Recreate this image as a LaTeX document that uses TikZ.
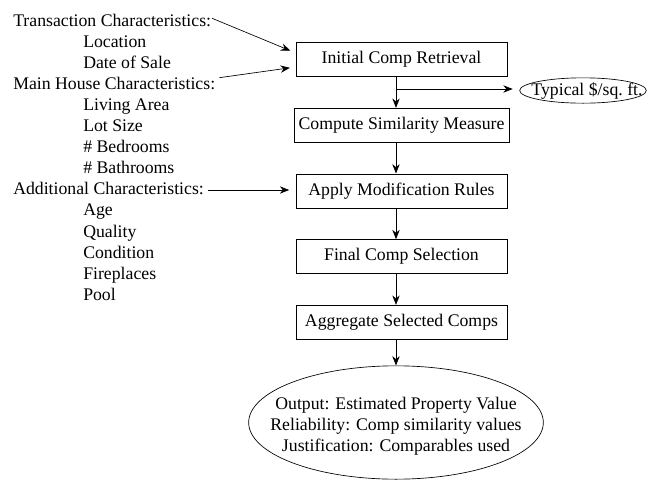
\documentclass[tikz,border=0pt]{standalone}
\usepackage{fontspec}
\setmainfont{Liberation Serif}
\usetikzlibrary{arrows.meta,positioning,calc,shapes.geometric}

\begin{document}
\begin{tikzpicture}[x=0.75pt, y=-0.75pt, node distance=23.25pt, font=\fontsize{13.3pt}{15.8pt}\selectfont]
      \useasboundingbox (0,0) rectangle (647,479);

      % input characteristics
      \node (trans) [anchor=base west, inner sep=0pt] at (13,26) {Transaction Characteristics:};
      \node (loc) [anchor=base west, inner sep=0pt] at (83,47.1) {Location};
      \node (date) [anchor=base west, inner sep=0pt] at (83,68.2) {Date of Sale};
      \node (main) [anchor=base west, inner sep=0pt] at (13,89.3) {Main House Characteristics:};
      \node (living) [anchor=base west, inner sep=0pt] at (83,110.4) {Living Area};
      \node (lot) [anchor=base west, inner sep=0pt] at (83,131.5) {Lot Size};
      \node (bed) [anchor=base west, inner sep=0pt] at (83,152.6) {\# Bedrooms};
      \node (bath) [anchor=base west, inner sep=0pt] at (83,173.7) {\# Bathrooms};
      \node (add) [anchor=base west, inner sep=0pt] at (13,194.8) {Additional Characteristics:};
      \node (age) [anchor=base west, inner sep=0pt] at (83,215.9) {Age};
      \node (quality) [anchor=base west, inner sep=0pt] at (83,237) {Quality};
      \node (cond) [anchor=base west, inner sep=0pt] at (83,258.1) {Condition};
      \node (fire) [anchor=base west, inner sep=0pt] at (83,279.2) {Fireplaces};
      \node (pool) [anchor=base west, inner sep=0pt] at (83,300.3) {Pool};

      % process steps
      \node (init) [draw, line width=0.5pt, minimum width=158pt, minimum height=25.5pt] at (401.5,59.5) {Initial Comp Retrieval};
      \node (sim) [below=of init, draw, line width=0.5pt, minimum width=158pt, minimum height=25.5pt] {Compute Similarity Measure};
      \node (apply) [below=of sim, draw, line width=0.5pt, minimum width=158pt, minimum height=25.5pt] {Apply Modification Rules};
      \node (final) [below=of apply, draw, line width=0.5pt, minimum width=158pt, minimum height=25.5pt] {Final Comp Selection};
      \node (agg) [below=of final, draw, line width=0.5pt, minimum width=158pt, minimum height=25.5pt] {Aggregate Selected Comps};

      % side result
      \node (typicalshape) [ellipse, draw, line width=0.5pt, inner sep=0pt, minimum width=95pt, minimum height=19pt] at (583,90.5) {};
      \node (typical) [inner sep=0pt] at (587,90.5) {Typical \$/sq.\ ft.};

      % final result
      \node (outshape) [ellipse, draw, line width=0.5pt, inner sep=0pt, minimum width=221pt, minimum height=85pt] at (396,422.5) {};
      \node (output) [align=center, inner sep=0pt] at (396,426) {
          Output: Estimated Property Value\\
          Reliability: Comp similarity values\\
          Justification: Comparables used
      };

      \coordinate (spine) at (396,0);
      \coordinate (branch) at (396,89);

      \draw[-{Stealth[length=7pt, width=5.5pt]}, line width=0.5pt, shorten <=0.5pt, shorten >=4.5pt] ([yshift=6pt]trans.base east) -- ([yshift=4.9pt]init.west);
      \draw[-{Stealth[length=7pt, width=5.5pt]}, line width=0.5pt, shorten <=3pt, shorten >=4.5pt] ([yshift=8.3pt]main.base east) -- ([yshift=-5.6pt]init.west);
      \draw[-{Stealth[length=7pt, width=5.5pt]}, line width=0.5pt, shorten <=3pt, shorten >=5pt] ([yshift=3.6pt]add.base east) -- ([yshift=3.6pt]add.base east -| apply.west);
      \draw[-{Stealth[length=7pt, width=5.5pt]}, line width=0.5pt] (init.south -| spine) -- (sim.north -| spine);
      \draw[-{Stealth[length=7pt, width=5.5pt]}, line width=0.5pt, shorten >=5pt] (branch) -- (branch -| typicalshape.west);
      \draw[-{Stealth[length=7pt, width=5.5pt]}, line width=0.5pt] (sim.south -| spine) -- (apply.north -| spine);
      \draw[-{Stealth[length=7pt, width=5.5pt]}, line width=0.5pt] (apply.south -| spine) -- (final.north -| spine);
      \draw[-{Stealth[length=7pt, width=5.5pt]}, line width=0.5pt] (final.south -| spine) -- (agg.north -| spine);
      \draw[-{Stealth[length=7pt, width=5.5pt]}, line width=0.5pt] (agg.south -| spine) -- (outshape.north -| spine);
  \end{tikzpicture}
\end{document}
